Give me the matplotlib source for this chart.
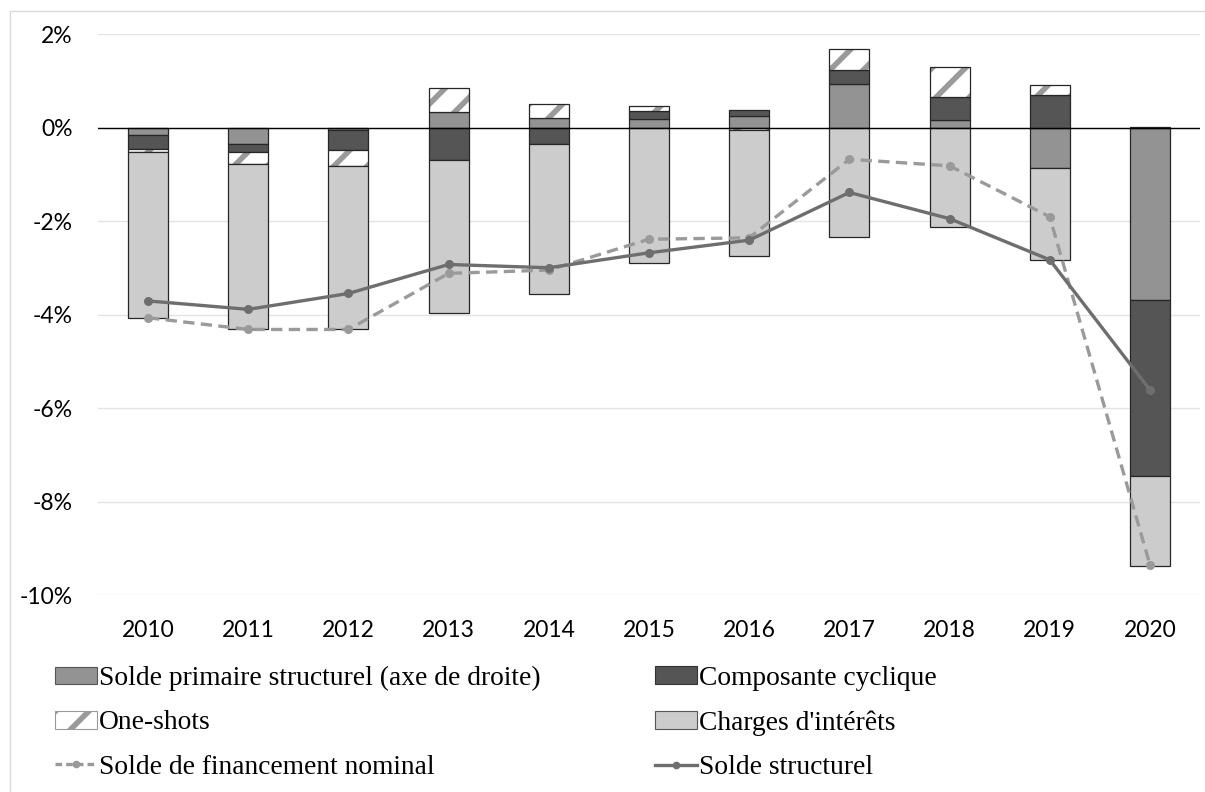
import numpy as np
import matplotlib
matplotlib.use("Agg")
import matplotlib.pyplot as plt
from matplotlib.patches import Patch, Rectangle
from matplotlib.lines import Line2D
from matplotlib.ticker import FuncFormatter

# Series (% of GDP)
years = ["2010", "2011", "2012", "2013", "2014", "2015",
         "2016", "2017", "2018", "2019", "2020"]
primaire = [-0.17, -0.36, -0.06, 0.33, 0.20, 0.19, 0.25, 0.94, 0.15, -0.87, -3.69]
cyclique = [-0.29, -0.17, -0.42, -0.70, -0.36, 0.16, 0.13, 0.28, 0.50, 0.70, -3.76]
one_shots = [-0.07, -0.26, -0.35, 0.51, 0.31, 0.11, -0.06, 0.45, 0.64, 0.21, 0.01]
charges = [-3.54, -3.53, -3.49, -3.26, -3.21, -2.89, -2.68, -2.35, -2.12, -1.96, -1.92]
nominal = [-4.07, -4.32, -4.32, -3.12, -3.05, -2.39, -2.36, -0.68, -0.82, -1.91, -9.35]
structurel = [-3.71, -3.89, -3.55, -2.93, -3.00, -2.68, -2.41, -1.39, -1.95, -2.83, -5.61]

labels = {
    "primaire": "Solde primaire structurel (axe de droite)",
    "cyclique": "Composante cyclique",
    "one_shots": "One-shots",
    "charges": "Charges d'intérêts",
    "nominal": "Solde de financement nominal",
    "structurel": "Solde structurel",
}

c_prim = "#939393"
c_cyc = "#555555"
c_chg = "#cccccc"
c_hatch = "#9a9a9a"
c_nom = "#9a9a9a"
c_str = "#6e6e6e"
edge = "#262626"

plt.rcParams["hatch.linewidth"] = 4.0

W, H = 1205, 792
fig = plt.figure(figsize=(W / 100, H / 100), dpi=100)
ax = fig.add_axes([98 / W, 1 - 595 / H, (1200 - 98) / W, (595 - 34) / H])

x = np.arange(len(years))
width = 0.4

# stack positives upward and negatives downward, in series order
pos = np.zeros(len(years))
neg = np.zeros(len(years))
for key, vals, color in [("primaire", primaire, c_prim),
                         ("cyclique", cyclique, c_cyc),
                         ("one_shots", one_shots, None),
                         ("charges", charges, c_chg)]:
    v = np.array(vals)
    base = np.where(v >= 0, pos, neg)
    if color is None:
        ax.bar(x, v, width, bottom=base, color="white", edgecolor=c_hatch,
               hatch="/", linewidth=0, zorder=2)
        ax.bar(x, v, width, bottom=base, fill=False, edgecolor=edge,
               linewidth=0.9, zorder=2)
    else:
        ax.bar(x, v, width, bottom=base, color=color, edgecolor=edge,
               linewidth=0.9, zorder=2)
    pos = pos + np.where(v >= 0, v, 0)
    neg = neg + np.where(v < 0, v, 0)

ax.plot(x, nominal, color=c_nom, lw=2.4, linestyle=(0, (3.4, 1.9)),
        marker="o", markersize=5.5, zorder=4)
ax.plot(x, structurel, color=c_str, lw=2.4, marker="o", markersize=5.5,
        zorder=4)

ax.set_xlim(-0.5, len(years) - 0.5)
ax.set_ylim(-10, 2)
ax.set_yticks(np.arange(-10, 2.1, 2))
ax.yaxis.set_major_formatter(FuncFormatter(lambda v, p: f"{v:.0f}%"))
ax.set_xticks(x)
ax.set_xticklabels(years)
ax.grid(axis="y", color="#e3e3e3", lw=1.0, zorder=0)
ax.axhline(0, color="black", lw=1.0, zorder=3)
for s in ax.spines.values():
    s.set_visible(False)
ax.tick_params(length=0, labelsize=16.5, pad=18, labelcolor="black")
ax.tick_params(axis="x", pad=18)
for t in ax.get_xticklabels() + ax.get_yticklabels():
    t.set_fontfamily("Lato")

# legend, two columns placed separately
legfont = {"family": "Liberation Serif", "size": 19.8}
h_prim = Patch(facecolor=c_prim, edgecolor="#555555", linewidth=0.8)
h_cyc = Patch(facecolor=c_cyc, edgecolor="#333333", linewidth=0.8)
h_one = Patch(facecolor="white", edgecolor=c_hatch, hatch="/", linewidth=0.8)
h_chg = Patch(facecolor=c_chg, edgecolor="#555555", linewidth=0.8)
h_nom = Line2D([], [], color=c_nom, lw=2.4, linestyle=(0, (2.0, 1.2)),
               marker="o", markersize=4.5)
h_str = Line2D([], [], color=c_str, lw=2.4, marker="o", markersize=4.5)

common = dict(loc="upper left", frameon=False, prop=legfont,
              handlelength=1.51, handleheight=0.61, handletextpad=0.1,
              labelspacing=0.7, borderpad=0, borderaxespad=0,
              bbox_transform=fig.transFigure)
leg1 = fig.legend([h_prim, h_one, h_nom],
                  [labels["primaire"], labels["one_shots"], labels["nominal"]],
                  bbox_to_anchor=(55 / W, 1 - 666 / H), **common)
leg2 = fig.legend([h_cyc, h_chg, h_str],
                  [labels["cyclique"], labels["charges"], labels["structurel"]],
                  bbox_to_anchor=(655 / W, 1 - 666 / H), **common)

# chart area outline
fig.patches.append(Rectangle((10 / W, -0.1), 1.2, 1 - 11 / H + 0.1,
                             transform=fig.transFigure, fill=False,
                             edgecolor="#d9d9d9", lw=1.0))

fig.savefig("out.png", dpi=100)
